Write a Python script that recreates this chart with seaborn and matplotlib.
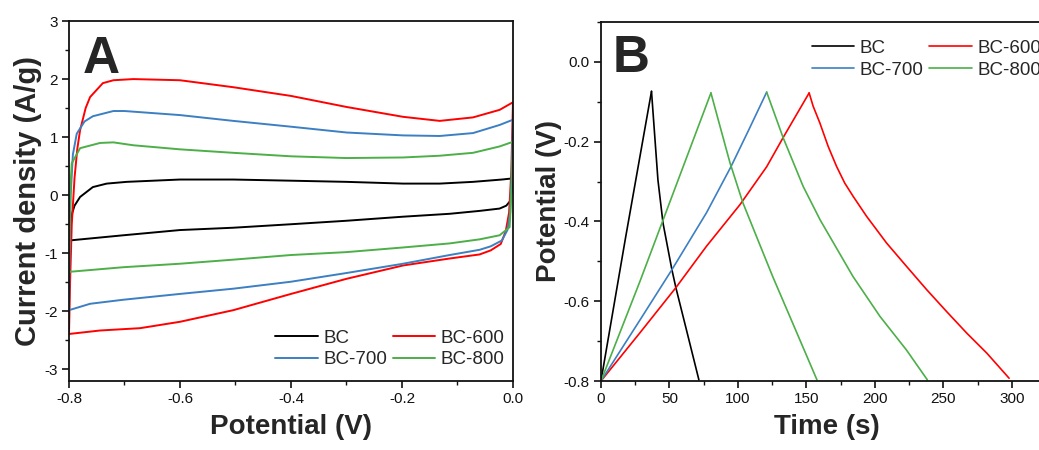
"""
CV and GCD comparison of BC samples (panels A and B).
Saves out.png.
"""

import pandas as pd
import matplotlib.pyplot as plt
import seaborn as sns
from matplotlib.ticker import MultipleLocator

# --- Panel A: cyclic voltammetry loops (potential V, current density A/g) ---
bc_v = [-0.8, -0.797, -0.794, -0.79, -0.78, -0.757, -0.732, -0.696, -0.6, -0.504, -0.4, -0.3,
        -0.198, -0.132, -0.072, -0.02, 0.0, -0.002, -0.005, -0.012, -0.024, -0.06, -0.114,
        -0.198, -0.3, -0.4, -0.504, -0.6, -0.702, -0.8]
bc_i = [-0.78, -0.5, -0.3, -0.18, -0.03, 0.14, 0.20, 0.23, 0.27, 0.27, 0.25, 0.23,
        0.20, 0.20, 0.23, 0.27, 0.29, 0.10, -0.10, -0.18, -0.23, -0.27, -0.32,
        -0.37, -0.44, -0.50, -0.56, -0.60, -0.69, -0.78]

bc600_v = [-0.8, -0.798, -0.795, -0.79, -0.785, -0.78, -0.77, -0.762, -0.739, -0.72, -0.684,
           -0.6, -0.504, -0.4, -0.3, -0.198, -0.132, -0.072, -0.024, 0.0, -0.003, -0.007,
           -0.013, -0.022, -0.04, -0.06, -0.114, -0.198, -0.3, -0.4, -0.504, -0.6, -0.672,
           -0.744, -0.8]
bc600_i = [-2.4, -1.5, -0.5, 0.3, 0.8, 1.12, 1.5, 1.69, 1.93, 1.98, 2.0,
           1.98, 1.86, 1.71, 1.52, 1.35, 1.28, 1.34, 1.47, 1.60, 0.4, -0.3,
           -0.62, -0.84, -0.95, -1.02, -1.09, -1.21, -1.44, -1.70, -1.98, -2.18, -2.29,
           -2.33, -2.39]

bc700_v = [-0.8, -0.799, -0.797, -0.793, -0.786, -0.772, -0.757, -0.72, -0.7, -0.6, -0.504,
           -0.4, -0.3, -0.198, -0.132, -0.072, -0.024, 0.0, -0.002, -0.005, -0.01, -0.02,
           -0.04, -0.06, -0.114, -0.198, -0.3, -0.4, -0.504, -0.6, -0.702, -0.762, -0.8]
bc700_i = [-1.98, -1.0, 0.0, 0.7, 1.06, 1.27, 1.36, 1.45, 1.45, 1.38, 1.28,
           1.18, 1.08, 1.03, 1.02, 1.07, 1.21, 1.30, 0.5, -0.3, -0.6, -0.78,
           -0.88, -0.94, -1.03, -1.18, -1.34, -1.49, -1.61, -1.70, -1.80, -1.87, -1.98]

bc800_v = [-0.8, -0.799, -0.797, -0.795, -0.78, -0.744, -0.72, -0.684, -0.6, -0.504, -0.4,
           -0.3, -0.198, -0.132, -0.072, -0.024, 0.0, -0.002, -0.006, -0.024, -0.06, -0.114,
           -0.198, -0.3, -0.4, -0.504, -0.6, -0.702, -0.8]
bc800_i = [-1.33, -0.6, 0.2, 0.55, 0.81, 0.90, 0.91, 0.86, 0.79, 0.73, 0.67,
           0.64, 0.65, 0.68, 0.73, 0.84, 0.92, 0.2, -0.55, -0.69, -0.76, -0.83,
           -0.90, -0.98, -1.03, -1.11, -1.18, -1.24, -1.32]

# --- Panel B: galvanostatic charge / discharge (time s, potential V) ---
bc_chg_t = [0, 18, 36.9]
bc_chg_v = [-0.8, -0.44, -0.074]
bc_dis_t = [36.9, 41.6, 45.3, 51.8, 54.7, 62.5, 71.5]
bc_dis_v = [-0.074, -0.296, -0.404, -0.521, -0.566, -0.673, -0.797]

bc800_chg_t = [0, 28.5, 80.3]
bc800_chg_v = [-0.8, -0.55, -0.078]
bc800_dis_t = [80.3, 86, 94.2, 103.6, 115, 125.5, 140, 157.7]
bc800_dis_v = [-0.078, -0.15, -0.253, -0.353, -0.45, -0.539, -0.655, -0.797]

bc700_chg_t = [0, 28.5, 51.8, 77.1, 94.9, 108, 121]
bc700_chg_v = [-0.8, -0.647, -0.521, -0.378, -0.263, -0.17, -0.076]
bc700_dis_t = [121, 133, 147.6, 160, 184, 203.7, 223, 238.3]
bc700_dis_v = [-0.076, -0.19, -0.312, -0.396, -0.538, -0.638, -0.722, -0.797]

bc600_chg_t = [0, 28.5, 54.7, 77.1, 101.5, 121, 133, 152]
bc600_chg_v = [-0.8, -0.679, -0.566, -0.462, -0.358, -0.263, -0.19, -0.078]
bc600_dis_t = [152, 154.9, 159.8, 165.9, 172, 178, 184.1, 193.9, 208.5, 223.2, 237.8,
               252.4, 267.1, 281.7, 298]
bc600_dis_v = [-0.078, -0.111, -0.153, -0.212, -0.262, -0.304, -0.337, -0.387, -0.454,
               -0.513, -0.571, -0.626, -0.680, -0.730, -0.793]

colors = {"BC": "#000000", "BC-600": "#ff0000", "BC-700": "#3c7fc2", "BC-800": "#4caf48"}

# Canvas & styling
sns.set_theme(style="ticks")
plt.rcParams["font.family"] = ["Liberation Sans", "DejaVu Sans"]
plt.rcParams["axes.unicode_minus"] = False

fig = plt.figure(figsize=(10.39, 4.5), dpi=100)
ax_a = fig.add_axes([0.0664, 0.1533, 0.4273, 0.80])
ax_b = fig.add_axes([0.5784, 0.1533, 0.4350, 0.798])

legend_kw = dict(ncol=2, frameon=False, fontsize=13.5, handlelength=2.25, labelspacing=0.25,
                 columnspacing=0.3, handletextpad=0.3, borderpad=0.0, borderaxespad=0.0)

# --- PANEL A ---
cv = [("BC", bc_v, bc_i), ("BC-600", bc600_v, bc600_i),
      ("BC-700", bc700_v, bc700_i), ("BC-800", bc800_v, bc800_i)]
for name, v, i in cv:
    df = pd.DataFrame({"Potential": v, "Current": i})
    sns.lineplot(ax=ax_a, data=df, x="Potential", y="Current", sort=False, estimator=None,
                 color=colors[name], linewidth=1.4, label=name)

ax_a.set_xlim(-0.8, 0.0)
ax_a.set_ylim(-3.2, 3.0)
ax_a.xaxis.set_minor_locator(MultipleLocator(0.1))
ax_a.yaxis.set_major_locator(MultipleLocator(1))
ax_a.yaxis.set_minor_locator(MultipleLocator(0.5))
ax_a.set_xticks([-0.8, -0.6, -0.4, -0.2, 0.0])
ax_a.set_xticklabels(["-0.8", "-0.6", "-0.4", "-0.2", "0.0"])
ax_a.set_xlabel("Potential (V)", fontsize=20, fontweight="bold", labelpad=6)
ax_a.set_ylabel("Current density (A/g)", fontsize=21, fontweight="bold", labelpad=2)
ax_a.text(0.03, 0.96, "A", transform=ax_a.transAxes, fontsize=37, fontweight="bold",
          va="top", ha="left")
h, l = ax_a.get_legend_handles_labels()
order = [0, 2, 1, 3]
ax_a.legend([h[k] for k in order], [l[k] for k in order], loc="lower left",
            bbox_to_anchor=(0.465, 0.035), **legend_kw)

# --- PANEL B ---
gcd = [("BC", "BC", bc_chg_t, bc_chg_v), ("BC", None, bc_dis_t, bc_dis_v),
       ("BC-600", "BC-600", bc600_chg_t, bc600_chg_v), ("BC-600", None, bc600_dis_t, bc600_dis_v),
       ("BC-700", "BC-700", bc700_chg_t, bc700_chg_v), ("BC-800", None, bc700_dis_t, bc700_dis_v),
       ("BC-800", "BC-800", bc800_chg_t, bc800_chg_v), ("BC-800", None, bc800_dis_t, bc800_dis_v)]
for cname, lab, t, v in gcd:
    df = pd.DataFrame({"Time": t, "Potential": v})
    sns.lineplot(ax=ax_b, data=df, x="Time", y="Potential", sort=False, estimator=None,
                 color=colors[cname], linewidth=1.2, label=lab)

ax_b.set_xlim(0, 330)
ax_b.set_ylim(-0.8, 0.1)
ax_b.xaxis.set_minor_locator(MultipleLocator(25))
ax_b.yaxis.set_minor_locator(MultipleLocator(0.1))
ax_b.set_xticks([0, 50, 100, 150, 200, 250, 300])
ax_b.set_yticks([-0.8, -0.6, -0.4, -0.2, 0.0])
ax_b.set_yticklabels(["-0.8", "-0.6", "-0.4", "-0.2", "0.0"])
ax_b.set_xlabel("Time (s)", fontsize=20, fontweight="bold", labelpad=6)
ax_b.set_ylabel("Potential (V)", fontsize=20, fontweight="bold", labelpad=1)
ax_b.text(0.025, 0.965, "B", transform=ax_b.transAxes, fontsize=37, fontweight="bold",
          va="top", ha="left")
h, l = ax_b.get_legend_handles_labels()
lut = dict(zip(l, h))
names = ["BC", "BC-700", "BC-600", "BC-800"]
ax_b.legend([lut[n] for n in names], names, loc="upper left",
            bbox_to_anchor=(0.467, 0.95), **legend_kw)

for ax in (ax_a, ax_b):
    for s in ax.spines.values():
        s.set_linewidth(1.3)
        s.set_color("#111111")
    ax.tick_params(which="major", direction="out", length=5, width=1.2, labelsize=11,
                   colors="#111111", pad=3)
    ax.tick_params(which="minor", direction="out", length=3, width=1.0, colors="#111111")
    ax.grid(False)

plt.savefig("out.png", dpi=100)
